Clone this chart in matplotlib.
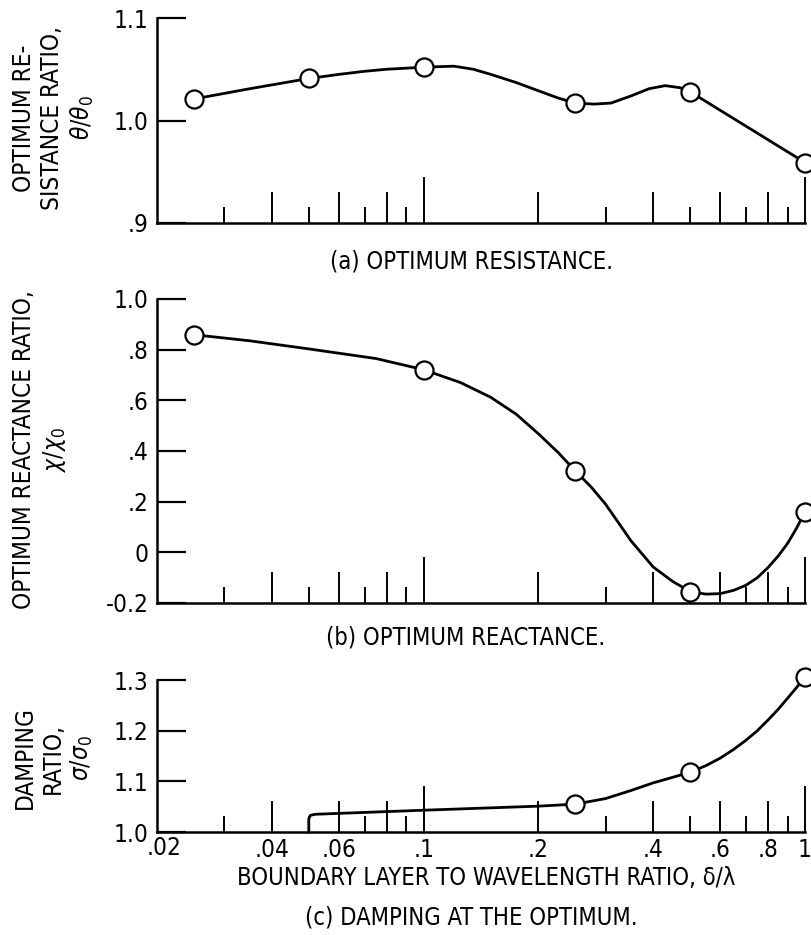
import matplotlib
matplotlib.use('Agg')
import matplotlib.pyplot as plt
from matplotlib.ticker import NullLocator

plt.rcParams['font.family'] = ['DejaVu Sans']
plt.rcParams['font.stretch'] = 'condensed'
plt.rcParams['mathtext.fontset'] = 'dejavusans'

# (a) optimum resistance
a_pts_x = [0.025, 0.05, 0.1, 0.25, 0.5, 1.0]
a_pts_y = [1.021, 1.041, 1.052, 1.017, 1.028, 0.959]
a_curve_x = [0.025, 0.035, 0.05, 0.06, 0.07, 0.08, 0.1, 0.12, 0.135, 0.15, 0.175, 0.2,
             0.225, 0.25, 0.28, 0.31, 0.35, 0.39, 0.43, 0.47, 0.5, 1.0]
a_curve_y = [1.021, 1.031, 1.041, 1.045, 1.048, 1.050, 1.052, 1.053, 1.050, 1.045,
             1.037, 1.029, 1.022, 1.017, 1.016, 1.017, 1.024, 1.031, 1.034, 1.032,
             1.028, 0.959]

# (b) optimum reactance
b_pts_x = [0.025, 0.1, 0.25, 0.5, 1.0]
b_pts_y = [0.859, 0.721, 0.321, -0.157, 0.16]
b_curve_x = [0.025, 0.035, 0.05, 0.075, 0.1, 0.125, 0.15, 0.175, 0.2, 0.225, 0.25,
             0.275, 0.3, 0.35, 0.4, 0.45, 0.5, 0.55, 0.6, 0.65, 0.7, 0.75, 0.8, 0.85,
             0.9, 0.95, 1.0]
b_curve_y = [0.859, 0.835, 0.803, 0.765, 0.721, 0.670, 0.612, 0.545, 0.468, 0.395,
             0.321, 0.258, 0.190, 0.045, -0.058, -0.115, -0.155, -0.165, -0.163, -0.15,
             -0.13, -0.10, -0.06, -0.015, 0.035, 0.095, 0.16]

# (c) damping at the optimum
c_pts_x = [0.25, 0.5, 1.0]
c_pts_y = [1.055, 1.118, 1.306]
c_curve_x = [0.05, 0.05, 0.0505, 0.052, 0.1, 0.2, 0.25, 0.3, 0.35, 0.4, 0.45, 0.5,
             0.55, 0.6, 0.65, 0.7, 0.75, 0.8, 0.85, 0.9, 0.95, 1.0]
c_curve_y = [1.0, 1.026, 1.033, 1.035, 1.043, 1.051, 1.055, 1.066, 1.082, 1.097,
             1.108, 1.118, 1.131, 1.146, 1.163, 1.181, 1.200, 1.221, 1.242, 1.264,
             1.285, 1.306]

decade_ticks = [0.1, 1.0]
even_ticks = [0.04, 0.06, 0.08, 0.2, 0.4, 0.6, 0.8]
odd_ticks = [0.03, 0.05, 0.07, 0.09, 0.3, 0.5, 0.7, 0.9]
x_labels_pos = [0.04, 0.06, 0.1, 0.2, 0.4, 0.6, 0.8, 1.0]
x_labels = ['.04', '.06', '.1', '.2', '.4', '.6', '.8', '1']
first_label = '.02'

a_yticks = [0.9, 1.0, 1.1]
a_ylabels = ['.9', '1.0', '1.1']
b_yticks = [-0.2, 0, 0.2, 0.4, 0.6, 0.8, 1.0]
b_ylabels = ['-0.2', '0', '.2', '.4', '.6', '.8', '1.0']
c_yticks = [1.0, 1.1, 1.2, 1.3]
c_ylabels = ['1.0', '1.1', '1.2', '1.3']

fig = plt.figure(figsize=(8.11, 9.35), dpi=100)
L, W = 157 / 811, 648 / 811
TICK_FS = 17.5


def panel(rect, cx, cy, px, py, yticks, ylabels, show_x=False):
    ax = fig.add_axes(rect)
    ax.set_xscale('log')
    ax.set_xlim(0.02, 1.0)
    ax.set_ylim(yticks[0], yticks[-1])
    ax.plot(cx, cy, color='black', lw=2.0, zorder=2, clip_on=False)
    ax.plot(px, py, 'o', ms=13, mfc='white', mec='black', mew=1.6, zorder=3,
            clip_on=False)
    for s in ['top', 'right']:
        ax.spines[s].set_visible(False)
    for s in ['left', 'bottom']:
        ax.spines[s].set_linewidth(1.8)
    ax.set_yticks(yticks)
    ax.set_yticklabels(ylabels)
    ax.tick_params(axis='y', direction='in', length=21, width=1.6, pad=6,
                   labelsize=TICK_FS)
    ax.set_xticks(decade_ticks)
    ax.set_xticks(even_ticks, minor=True)
    ax.set_xticklabels([])
    ax.set_xticklabels([], minor=True)
    ax.tick_params(axis='x', which='major', direction='in', length=33, width=1.4)
    ax.tick_params(axis='x', which='minor', direction='in', length=22, width=1.4)
    sec = ax.secondary_xaxis('bottom')
    sec.set_xticks(odd_ticks)
    sec.set_xticklabels([])
    sec.xaxis.set_minor_locator(NullLocator())
    sec.tick_params(axis='x', direction='in', length=11.5, width=1.4)
    sec.spines['bottom'].set_visible(False)
    if show_x:
        lab = ax.secondary_xaxis('bottom')
        lab.set_xticks(x_labels_pos)
        lab.set_xticklabels(x_labels)
        lab.xaxis.set_minor_locator(NullLocator())
        lab.tick_params(axis='x', length=0, pad=4, labelsize=TICK_FS)
        lab.spines['bottom'].set_visible(False)
        ax.annotate(first_label, xy=(0.02, 0), xycoords=('data', 'axes fraction'),
                    xytext=(5, -3), textcoords='offset points', ha='center',
                    va='top', fontsize=TICK_FS)
    return ax


ax_a = panel([L, 1 - 223 / 935, W, 205 / 935], a_curve_x, a_curve_y, a_pts_x, a_pts_y,
             a_yticks, a_ylabels)
ax_b = panel([L, 1 - 603 / 935, W, 304 / 935], b_curve_x, b_curve_y, b_pts_x, b_pts_y,
             b_yticks, b_ylabels)
ax_c = panel([L, 1 - 832 / 935, W, 152 / 935], c_curve_x, c_curve_y, c_pts_x, c_pts_y,
             c_yticks, c_ylabels, show_x=True)

ylab_kw = dict(rotation=90, ha='center', va='center', multialignment='center',
               fontsize=17.5, linespacing=1.2)
fig.text(54 / 811, 1 - 118 / 935, 'OPTIMUM RE-\nSISTANCE RATIO,\n$\\theta/\\theta_0$',
         **ylab_kw)
fig.text(40 / 811, 1 - 450 / 935, 'OPTIMUM REACTANCE RATIO,\n$\\chi/\\chi_0$', **ylab_kw)
fig.text(54 / 811, 1 - 758 / 935, 'DAMPING\nRATIO,\n$\\sigma/\\sigma_0$', **ylab_kw)

cap_kw = dict(ha='center', va='center', fontsize=17)
fig.text(471 / 811, 1 - 261 / 935, '(a) OPTIMUM RESISTANCE.', **cap_kw)
fig.text(466 / 811, 1 - 638 / 935, '(b) OPTIMUM REACTANCE.', **cap_kw)
fig.text(486 / 811, 1 - 878 / 935, 'BOUNDARY LAYER TO WAVELENGTH RATIO, δ/λ', **cap_kw)
fig.text(471 / 811, 1 - 918 / 935, '(c) DAMPING AT THE OPTIMUM.', **cap_kw)

fig.savefig('out.png', dpi=100, facecolor='white')
